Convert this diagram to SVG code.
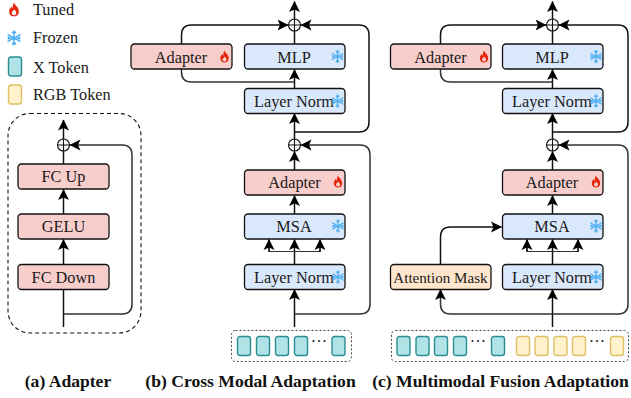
<svg xmlns="http://www.w3.org/2000/svg" width="631" height="398" viewBox="0 0 631 398">
<style>
text{font-family:"Liberation Serif","Times New Roman",serif;fill:#1a1a1a;font-size:16.3px}
.c{text-anchor:middle}
.cap{font-weight:bold;font-size:17.6px;fill:#111}
.box{stroke:#111;stroke-width:1.3}
.pink{fill:#f8cecc}.blue{fill:#dae8fc}.orange{fill:#ffe6cc}
.x{fill:#b0e3e6;stroke:#2a8d94;stroke-width:1.4}
.y{fill:#fff2cc;stroke:#e0c064;stroke-width:1.4}
.l{fill:none;stroke:#111;stroke-width:1.5}
.g{fill:none;stroke:#333;stroke-width:1}
.d{fill:none;stroke:#333;stroke-width:1.5}
.dash{fill:none;stroke:#111;stroke-width:1.1;stroke-dasharray:4 3}
.dot{fill:none;stroke:#333;stroke-width:.9;stroke-dasharray:2 2}
.op{fill:none;stroke:#111;stroke-width:1.1}
.sn{stroke:#4aaef0;stroke-width:1.3;fill:none}
</style>
<defs>
<marker id="a" markerUnits="userSpaceOnUse" markerWidth="12" markerHeight="12" refX="10.500" refY="6" orient="auto"><path d="M0 .5L11 6L0 11.500L2.500 6Z" fill="#000"/></marker>
<path id="fl" d="M0-6.500C.6-4 4.200-2.600 4.200 1.200C4.200 4 2.200 5.500 0 5.500C-2.200 5.500-4.200 4-4.200 1.200C-4.200-.8-3-2-2.400-3C-2.100-2-1.700-1.500-1.200-1.200C-1.300-3.200-.8-5.200 0-6.500ZM0 4.500C1.200 4.500 2 3.600 2 2.400C2 1.200 .9.600 .3-.6C-.2.600-2 1.200-2 2.600C-2 3.700-1.100 4.500 0 4.500Z" fill="#e5260c" fill-rule="evenodd"/>
<g id="sf" class="sn"><path d="M0-6.500V6.500M-5.600-3.200L5.600 3.200M-5.600 3.200L5.600-3.200M-1.700-5.400L0-3.600L1.700-5.400M-1.700 5.400L0 3.600L1.700 5.400M-5.500-1L-3.200 0L-5.500 1M5.500-1L3.200 0L5.500 1"/></g>
<g id="pl"><circle r="6" class="op"/><path d="M-6 0H6M0-6V6" class="op"/></g>
<rect id="tk" width="13" height="19" rx="2.500"/>
</defs>

<g id="legend">
<use href="#fl" transform="translate(14,10) scale(1.150)"/>
<text x="33" y="15">Tuned</text>
<use href="#sf" transform="translate(14,38) scale(1.150)"/>
<text x="33" y="43">Frozen</text>
<use href="#tk" class="x" x="8.500" y="57"/>
<text x="33" y="73">X Token</text>
<use href="#tk" class="y" x="8.500" y="85"/>
<text x="33" y="100">RGB Token</text>
</g>

<g id="connectors">
<rect x="8" y="113.500" width="133" height="219.500" rx="22" class="dash"/>
<path class="l" marker-end="url(#a)" d="M63.500 327V264.500"/>
<path class="l" marker-end="url(#a)" d="M63.500 264V239.500"/>
<path class="l" marker-end="url(#a)" d="M63.500 214V189.500"/>
<path class="l" d="M63.500 164V151"/>
<path class="l" marker-end="url(#a)" d="M63.500 139V120"/>
<path class="d" marker-end="url(#a)" d="M63.500 314H122Q132 314 132 304V155Q132 145 122 145H70"/>

<path class="l" marker-end="url(#a)" d="M294.500 19V1.500"/>
<path class="l" d="M294.500 44V31"/>
<path class="l" marker-end="url(#a)" d="M294.500 88V69.500"/>
<path class="l" d="M181.500 44V35Q181.500 25 191.500 25H288" marker-end="url(#a)"/>
<path class="d" d="M181.500 69V72Q181.500 82 191.500 82H294.500"/>
<path class="l" marker-end="url(#a)" d="M369 122V35Q369 25 359 25H301"/>
<path class="l" d="M294.500 132H359Q369 132 369 122"/>
<path class="l" marker-end="url(#a)" d="M294.500 139V113.500"/>
<path class="l" marker-end="url(#a)" d="M294.500 170V151.500"/>
<path class="l" marker-end="url(#a)" d="M294.500 214V195.500"/>
<path class="l" marker-end="url(#a)" d="M294.500 264V239.500"/>
<path class="g" d="M269 239.500V251.500H320V239.500"/>
<path class="l" marker-end="url(#a)" d="M269 252V239.500"/>
<path class="l" marker-end="url(#a)" d="M320 252V239.500"/>
<path class="l" marker-end="url(#a)" d="M294.500 327V289.500"/>
<path class="d" marker-end="url(#a)" d="M294.500 314H360Q370 314 370 304V155Q370 145 360 145H301"/>

<path class="l" marker-end="url(#a)" d="M552.500 19V1.500"/>
<path class="l" d="M552.500 44V31"/>
<path class="l" marker-end="url(#a)" d="M552.500 88V69.500"/>
<path class="l" d="M440.500 44V35Q440.500 25 450.500 25H546" marker-end="url(#a)"/>
<path class="d" d="M440.500 69V72Q440.500 82 450.500 82H552.500"/>
<path class="l" marker-end="url(#a)" d="M628 122V35Q628 25 618 25H559"/>
<path class="l" d="M552.500 132H618Q628 132 628 122"/>
<path class="l" marker-end="url(#a)" d="M552.500 139V113.500"/>
<path class="l" marker-end="url(#a)" d="M552.500 170V151.500"/>
<path class="l" marker-end="url(#a)" d="M552.500 214V195.500"/>
<path class="l" marker-end="url(#a)" d="M552.500 264V239.500"/>
<path class="g" d="M527 239.500V251.500H578V239.500"/>
<path class="l" marker-end="url(#a)" d="M527 252V239.500"/>
<path class="l" marker-end="url(#a)" d="M578 252V239.500"/>
<path class="l" marker-end="url(#a)" d="M552.500 327V289.500"/>
<path class="l" marker-end="url(#a)" d="M440.500 264V237Q440.500 227 450.500 227H501.500"/>
<path class="d" marker-end="url(#a)" d="M552.500 314H450.500Q440.500 314 440.500 304V289.500"/>
<path class="d" marker-end="url(#a)" d="M552.500 314H618Q628 314 628 304V155Q628 145 618 145H559"/>
</g>

<g id="oplus">
<use href="#pl" x="63.500" y="145"/>
<use href="#pl" x="294.500" y="25"/>
<use href="#pl" x="294.500" y="145"/>
<use href="#pl" x="552.500" y="25"/>
<use href="#pl" x="552.500" y="145"/>
</g>

<g id="fc-up"><rect class="box pink" x="18" y="164" width="91" height="25" rx="3.500"/><text class="c" x="63.500" y="182">FC Up</text></g>
<g id="gelu"><rect class="box pink" x="18" y="214" width="91" height="25" rx="3.500"/><text class="c" x="63.500" y="232">GELU</text></g>
<g id="fc-down"><rect class="box pink" x="18" y="264.500" width="91" height="25" rx="3.500"/><text class="c" x="63.500" y="283">FC Down</text></g>

<g id="b-adapter-top"><rect class="box pink" x="131" y="44" width="101" height="25" rx="3.500"/><text class="c" x="181" y="63">Adapter</text><use href="#fl" transform="translate(224.500,57)"/></g>
<g id="b-mlp"><rect class="box blue" x="244.500" y="44" width="100.500" height="25" rx="3.500"/><text class="c" x="294" y="63">MLP</text><use href="#sf" transform="translate(337.500,56.500)"/></g>
<g id="b-norm-top"><rect class="box blue" x="244.500" y="88.500" width="100.500" height="25" rx="3.500"/><text class="c" x="294" y="107">Layer Norm</text><use href="#sf" transform="translate(337.500,101)"/></g>
<g id="b-adapter"><rect class="box pink" x="244.500" y="170" width="100.500" height="25" rx="3.500"/><text class="c" x="294.500" y="188">Adapter</text><use href="#fl" transform="translate(338,182)"/></g>
<g id="b-msa"><rect class="box blue" x="244.500" y="214" width="100.500" height="25" rx="3.500"/><text class="c" x="294" y="232">MSA</text><use href="#sf" transform="translate(338,226)"/></g>
<g id="b-norm"><rect class="box blue" x="244.500" y="264.500" width="100.500" height="25" rx="3.500"/><text class="c" x="294" y="283">Layer Norm</text><use href="#sf" transform="translate(338,277)"/></g>
<g id="b-tokens">
<rect class="dot" x="231.500" y="330.500" width="120" height="31" rx="4"/>
<use href="#tk" class="x" x="237.500" y="336.500"/><use href="#tk" class="x" x="256.500" y="336.500"/><use href="#tk" class="x" x="275.500" y="336.500"/><use href="#tk" class="x" x="294.500" y="336.500"/>
<text class="c" x="319" y="347">···</text>
<use href="#tk" class="x" x="332" y="336.500"/>
</g>

<g id="c-adapter-top"><rect class="box pink" x="390.500" y="44" width="100.500" height="25" rx="3.500"/><text class="c" x="440.500" y="63">Adapter</text><use href="#fl" transform="translate(484,57)"/></g>
<g id="c-mlp"><rect class="box blue" x="502.500" y="44" width="100.500" height="25" rx="3.500"/><text class="c" x="552" y="63">MLP</text><use href="#sf" transform="translate(596,56.500)"/></g>
<g id="c-norm-top"><rect class="box blue" x="502.500" y="88.500" width="100.500" height="25" rx="3.500"/><text class="c" x="552" y="107">Layer Norm</text><use href="#sf" transform="translate(596,101)"/></g>
<g id="c-adapter"><rect class="box pink" x="502.500" y="170" width="100.500" height="25" rx="3.500"/><text class="c" x="552" y="188">Adapter</text><use href="#fl" transform="translate(596,182)"/></g>
<g id="c-msa"><rect class="box blue" x="502.500" y="214" width="100.500" height="25" rx="3.500"/><text class="c" x="552" y="232">MSA</text><use href="#sf" transform="translate(596,226)"/></g>
<g id="c-norm"><rect class="box blue" x="502.500" y="264.500" width="100.500" height="25" rx="3.500"/><text class="c" x="552" y="283">Layer Norm</text><use href="#sf" transform="translate(596,277)"/></g>
<g id="c-mask"><rect class="box orange" x="390.500" y="264.500" width="100.500" height="25" rx="3.500"/><text class="c" x="440.500" y="283" style="font-size:15.100px">Attention Mask</text></g>
<g id="c-tokens">
<rect class="dot" x="391.500" y="330.500" width="237" height="31" rx="4"/>
<use href="#tk" class="x" x="397" y="336.500"/><use href="#tk" class="x" x="416" y="336.500"/><use href="#tk" class="x" x="434.500" y="336.500"/><use href="#tk" class="x" x="453.500" y="336.500"/>
<text class="c" x="478" y="347">···</text>
<use href="#tk" class="x" x="491.500" y="336.500"/>
<use href="#tk" class="y" x="516.500" y="336.500"/><use href="#tk" class="y" x="535" y="336.500"/><use href="#tk" class="y" x="554" y="336.500"/><use href="#tk" class="y" x="572.500" y="336.500"/>
<text class="c" x="597" y="347">···</text>
<use href="#tk" class="y" x="610.500" y="336.500"/>
</g>

<g id="captions">
<text class="c cap" x="68" y="387">(a) Adapter</text>
<text class="c cap" x="250.500" y="387">(b) Cross Modal Adaptation</text>
<text class="c cap" x="500.500" y="387">(c) Multimodal Fusion Adaptation</text>
</g>
</svg>
